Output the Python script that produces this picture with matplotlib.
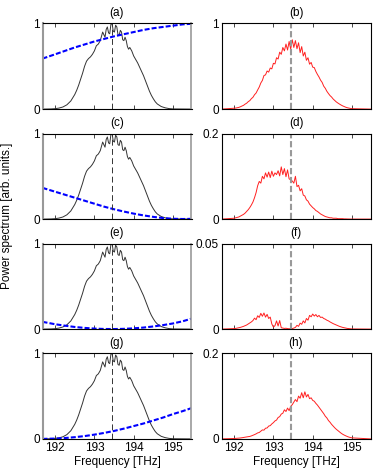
"""
Power spectra after filtering: input spectrum + filter (left), output (right)
"""

import numpy as np
import matplotlib.pyplot as plt

plt.rcParams['font.family'] = ['Liberation Sans', 'DejaVu Sans']
plt.rcParams['font.size'] = 8

# x range / centre frequency [THz]
f_min, f_max = 191.68, 195.47
f_center = 193.44
x_ticks = [192, 193, 194, 195]

# input spectrum (black, same in every left panel)
spec_f = [191.68, 191.90, 192.00, 192.10, 192.20, 192.30, 192.40, 192.50, 192.55, 192.60,
          192.65, 192.70, 192.75, 192.80, 192.85, 192.90, 192.95, 193.00, 193.05, 193.10,
          193.15, 193.18, 193.21, 193.24, 193.27, 193.30, 193.33, 193.36, 193.39, 193.42,
          193.45, 193.48, 193.51, 193.54, 193.57, 193.60, 193.63, 193.66, 193.69, 193.72,
          193.75, 193.78, 193.81, 193.84, 193.87, 193.90, 193.95, 194.00, 194.05, 194.10,
          194.15, 194.20, 194.25, 194.30, 194.35, 194.40, 194.45, 194.50, 194.55, 194.60,
          194.70, 194.80, 194.90, 195.00, 195.47]
spec_in = [0.000, 0.002, 0.005, 0.012, 0.025, 0.050, 0.095, 0.170, 0.220, 0.280,
           0.350, 0.420, 0.500, 0.560, 0.590, 0.610, 0.640, 0.680, 0.740, 0.760,
           0.800, 0.850, 0.900, 0.870, 0.840, 0.930, 0.960, 0.890, 0.880, 0.990,
           1.000, 0.910, 0.900, 0.980, 0.960, 0.870, 0.860, 0.920, 0.900, 0.810,
           0.800, 0.840, 0.800, 0.730, 0.700, 0.720, 0.680, 0.620, 0.580, 0.540,
           0.490, 0.440, 0.390, 0.330, 0.270, 0.210, 0.160, 0.120, 0.085, 0.060,
           0.030, 0.015, 0.006, 0.002, 0.000]

# filter transfer functions (blue dashed)
filt_f = [191.68, 192.00, 192.25, 192.50, 192.75, 193.00, 193.25, 193.50, 193.75,
          194.00, 194.25, 194.50, 194.75, 195.00, 195.25, 195.47]
filt_a = [0.590, 0.640, 0.680, 0.720, 0.755, 0.790, 0.820, 0.850, 0.875,
          0.900, 0.925, 0.945, 0.960, 0.975, 0.990, 0.997]
filt_c = [0.365, 0.320, 0.285, 0.250, 0.215, 0.180, 0.145, 0.115, 0.088,
          0.064, 0.043, 0.026, 0.012, 0.004, 0.001, 0.003]
filt_e = [0.085, 0.057, 0.040, 0.025, 0.014, 0.006, 0.0015, 0.0005, 0.003,
          0.009, 0.018, 0.031, 0.047, 0.066, 0.092, 0.122]
filt_g = [0.000, 0.004, 0.010, 0.020, 0.033, 0.050, 0.070, 0.093, 0.120,
          0.150, 0.180, 0.215, 0.250, 0.290, 0.325, 0.360]

# output spectra (red), sampled every 0.04 THz from 192.00 to 195.00
out_f = [f_min] + list(np.round(np.arange(192.0, 195.001, 0.04), 2)) + [f_max]
out_b = [0.0,
         0.010, 0.012, 0.016, 0.020, 0.027, 0.036, 0.044, 0.058, 0.069, 0.087,
         0.099, 0.122, 0.138, 0.168, 0.188, 0.224, 0.258, 0.305, 0.335, 0.392,
         0.400, 0.445, 0.432, 0.480, 0.470, 0.535, 0.528, 0.600, 0.585, 0.665,
         0.640, 0.720, 0.680, 0.760, 0.690, 0.790, 0.700, 0.810, 0.720, 0.800,
         0.705, 0.775, 0.660, 0.730, 0.620, 0.665, 0.570, 0.600, 0.525, 0.545,
         0.490, 0.485, 0.440, 0.405, 0.375, 0.338, 0.312, 0.268, 0.243, 0.208,
         0.182, 0.158, 0.141, 0.118, 0.101, 0.084, 0.071, 0.059, 0.048, 0.038,
         0.030, 0.022, 0.016, 0.012, 0.008, 0.005,
         0.0]
out_d = [0.0,
         0.002, 0.003, 0.004, 0.005, 0.007, 0.009, 0.011, 0.014, 0.018, 0.022,
         0.027, 0.033, 0.040, 0.050, 0.062, 0.078, 0.088, 0.084, 0.100, 0.094,
         0.108, 0.098, 0.110, 0.097, 0.112, 0.100, 0.108, 0.104, 0.113, 0.101,
         0.122, 0.104, 0.118, 0.099, 0.115, 0.094, 0.092, 0.089, 0.084, 0.100,
         0.076, 0.079, 0.066, 0.071, 0.056, 0.054, 0.045, 0.042, 0.035, 0.031,
         0.027, 0.024, 0.020, 0.018, 0.015, 0.012, 0.010, 0.008, 0.006, 0.005,
         0.004, 0.003, 0.003, 0.002, 0.002, 0.002, 0.001, 0.001, 0.001, 0.001,
         0.0005, 0.0005, 0.0003, 0.0002, 0.0001, 0.0001,
         0.0]
out_f_ = [0.0,
          0.0003, 0.0004, 0.0006, 0.0008, 0.0010, 0.0013, 0.0016, 0.0020, 0.0024, 0.0030,
          0.0036, 0.0042, 0.0050, 0.0064, 0.0055, 0.0078, 0.0068, 0.0092, 0.0075, 0.0094,
          0.0070, 0.0086, 0.0062, 0.0070, 0.0030, 0.0012, 0.0020, 0.0048, 0.0018, 0.0050,
          0.0008, 0.0006, 0.0004, 0.0005, 0.0003, 0.0002, 0.0002, 0.0003, 0.0006, 0.0010,
          0.0022, 0.0016, 0.0035, 0.0028, 0.0048, 0.0036, 0.0062, 0.0052, 0.0080, 0.0072,
          0.0088, 0.0076, 0.0085, 0.0072, 0.0080, 0.0068, 0.0070, 0.0062, 0.0058, 0.0052,
          0.0048, 0.0042, 0.0037, 0.0032, 0.0028, 0.0024, 0.0020, 0.0016, 0.0013, 0.0010,
          0.0008, 0.0006, 0.0004, 0.0003, 0.0002, 0.0001,
          0.0]
out_h = [0.0,
         0.0010, 0.0012, 0.0015, 0.0018, 0.0022, 0.0027, 0.0033, 0.0040, 0.0046, 0.0052,
         0.0058, 0.0070, 0.0085, 0.0100, 0.0118, 0.0140, 0.0150, 0.0180, 0.0210, 0.0205,
         0.0250, 0.0255, 0.0300, 0.0310, 0.0350, 0.0380, 0.0420, 0.0440, 0.0500, 0.0520,
         0.0580, 0.0600, 0.0680, 0.0640, 0.0720, 0.0660, 0.0760, 0.0800, 0.0860, 0.0920,
         0.0870, 0.1000, 0.0950, 0.1080, 0.0960, 0.1100, 0.0980, 0.1040, 0.0940, 0.0960,
         0.0900, 0.0880, 0.0830, 0.0790, 0.0740, 0.0690, 0.0640, 0.0590, 0.0530, 0.0490,
         0.0430, 0.0390, 0.0340, 0.0300, 0.0260, 0.0225, 0.0195, 0.0165, 0.0135, 0.0110,
         0.0090, 0.0072, 0.0056, 0.0042, 0.0032, 0.0024,
         0.0]

left_filters = [filt_a, filt_c, filt_e, filt_g]
right_outputs = [out_b, out_d, out_f_, out_h]
right_ymax = [1, 0.2, 0.05, 0.2]
right_ylabels = ['1', '0.2', '0.05', '0.2']
left_titles = ['(a)', '(c)', '(e)', '(g)']
right_titles = ['(b)', '(d)', '(f)', '(h)']

W, H = 374, 472
row_top_px = [23.5, 133.5, 243.5, 353.3]
row_h_px = 85.6
col_left_px = [42.5, 221.5]
col_w_px = 149.0


def style_axes(ax, ymax, ylab, bottom_row):
    ax.set_xlim(f_min, f_max)
    ax.set_ylim(0, ymax)
    ax.set_xticks(x_ticks)
    ax.set_yticks([0, ymax])
    ax.set_yticklabels(['0', ylab])
    ax.tick_params(direction='in', length=3, width=0.5, top=True, right=True,
                   labelsize=8.5, pad=2, colors='black')
    if bottom_row:
        ax.set_xticklabels([str(t) for t in x_ticks])
        ax.set_xlabel('Frequency [THz]', fontsize=8.5, labelpad=1.5)
    else:
        ax.set_xticklabels([])
    for s in ax.spines.values():
        s.set_linewidth(0.8)


fig = plt.figure(figsize=(W / 100, H / 100), dpi=100)

for r in range(4):
    bottom = 1 - (row_top_px[r] + row_h_px) / H
    h = row_h_px / H

    # left column: input spectrum + filter
    ax = fig.add_axes([col_left_px[0] / W, bottom, col_w_px / W, h])
    ax.plot(spec_f, spec_in, color='#333333', lw=0.7)
    ax.plot(filt_f, left_filters[r], color='#0000ff', lw=1.5, ls=(0, (2.4, 1.0)))
    ax.axvline(f_center, color='#333333', lw=0.7, ls=(0, (6, 3.5)))
    style_axes(ax, 1, '1', r == 3)
    ax.spines['left'].set_color('#999999')
    ax.spines['left'].set_linewidth(1.5)
    ax.spines['right'].set_color('#999999')
    ax.spines['right'].set_linewidth(1.2)
    ax.set_title(left_titles[r], fontsize=8.5, pad=5.5)

    # right column: filtered output
    ax = fig.add_axes([col_left_px[1] / W, bottom, col_w_px / W, h])
    ax.plot(out_f, right_outputs[r], color='#ff2020', lw=0.7)
    ax.axvline(f_center, color='#999999', lw=1.5, ls=(0, (3.0, 1.3)))
    style_axes(ax, right_ymax[r], right_ylabels[r], r == 3)
    ax.set_title(right_titles[r], fontsize=8.5, pad=5.5)

fig.text(0.019, 0.542, 'Power spectrum [arb. units.]', rotation=90,
         ha='center', va='center', fontsize=8.5)

plt.savefig('out.png', dpi=100)
plt.close()
